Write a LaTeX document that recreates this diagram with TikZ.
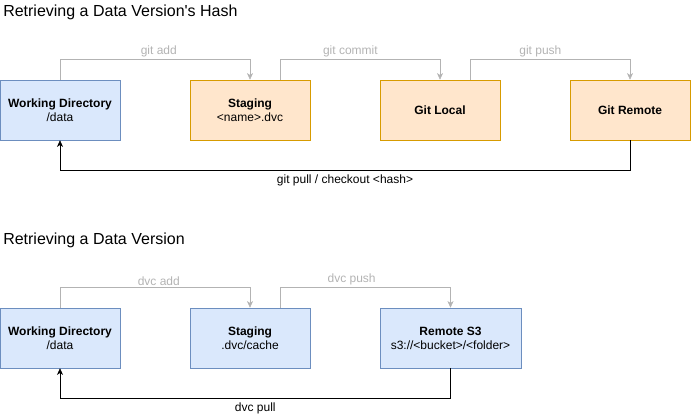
\documentclass[tikz,border=0pt]{standalone}
\usepackage{fontspec}
\setmainfont{Liberation Sans}
\usetikzlibrary{arrows.meta}
\definecolor{BlueFill}{HTML}{DAE8FC}
\definecolor{BlueLine}{HTML}{6C8EBF}
\definecolor{OrangeFill}{HTML}{FFE6CC}
\definecolor{OrangeLine}{HTML}{D79B00}
\definecolor{LightGray}{HTML}{B3B3B3}

\tikzset{
	box/.style={draw, minimum width=90pt, minimum height=45pt, inner sep=0pt, align=center, font=\fontsize{9}{10.5}\selectfont},
	bluebox/.style={box, fill=BlueFill, draw=BlueLine},
	orangebox/.style={box, fill=OrangeFill, draw=OrangeLine},
	grayflow/.style={draw=LightGray, -{Stealth[length=5pt,width=4.5pt,inset=1.5pt]}},
	blackflow/.style={draw=black, -{Stealth[length=5pt,width=4.5pt,inset=1.5pt]}},
	graylabel/.style={text=LightGray, font=\fontsize{9}{10.5}\selectfont, inner sep=1.5pt},
	blacklabel/.style={text=black, font=\fontsize{9}{10.5}\selectfont, inner sep=3.5pt},
	heading/.style={anchor=west, inner sep=0pt, font=\fontsize{12}{14}\selectfont}
}

\begin{document}
\begin{tikzpicture}[x=0.75pt,y=0.75pt,yscale=-1,xscale=1]
		\useasboundingbox (0,0) rectangle (691,419);

		% Headings of the two diagrams
		\node[heading] (titlehash) at (3,12) {Retrieving a Data Version\textquotesingle s Hash};
		\node[heading] (titledata) at (3,240) {Retrieving a Data Version};

		% Boxes of the git flow (top)
		\node[bluebox] (wdhash) at (60,110) {\textbf{Working Directory}\\/data};
		\node[orangebox] (stghash) at (250,110) {\textbf{Staging}\\<name>.dvc};
		\node[orangebox] (gitlocal) at (440,110) {\textbf{Git Local}};
		\node[orangebox] (gitremote) at (630,110) {\textbf{Git Remote}};

		% Gray arrows above the git boxes
		\draw[grayflow] (wdhash.north) -- ++(0,-20) -| (stghash.north) node[graylabel, pos=0.26, above] (lbladd) {git add};
		\draw[grayflow] ([xshift=22.5pt]stghash.north) -- ++(0,-20) -| (gitlocal.north) node[graylabel, pos=0.22, above] (lblcommit) {git commit};
		\draw[grayflow] ([xshift=22.5pt]gitlocal.north) -- ++(0,-20) -| (gitremote.north) node[graylabel, pos=0.22, above] (lblpush) {git push};

		% Black arrow back to the working directory
		\draw[blackflow] (gitremote.south) -- ++(0,30) -| (wdhash.south) node[blacklabel, pos=0.25, below] (lblpull) {git pull / checkout <hash>};

		% Boxes of the dvc flow (bottom)
		\node[bluebox] (wddata) at (60,338) {\textbf{Working Directory}\\/data};
		\node[bluebox] (stgdata) at (250,338) {\textbf{Staging}\\.dvc/cache};
		\node[bluebox, minimum width=105.75pt] (remotes3) at (450.5,338) {\textbf{Remote S3}\\s3://<bucket>/<folder>};

		% Gray arrows above the dvc boxes
		\draw[grayflow] (wddata.north) -- ++(0,-20) -| (stgdata.north) node[graylabel, pos=0.26, above] (lbldvcadd) {dvc add};
		\draw[grayflow] ([xshift=22.5pt]stgdata.north) -- ++(0,-20) -| (remotes3.north) node[graylabel, pos=0.21, above] (lbldvcpush) {dvc push};

		% Black arrow back to the working directory
		\draw[blackflow] (remotes3.south) -- ++(0,30) -| (wddata.south) node[blacklabel, pos=0.25, below] (lbldvcpull) {dvc pull};
	\end{tikzpicture}
\end{document}
